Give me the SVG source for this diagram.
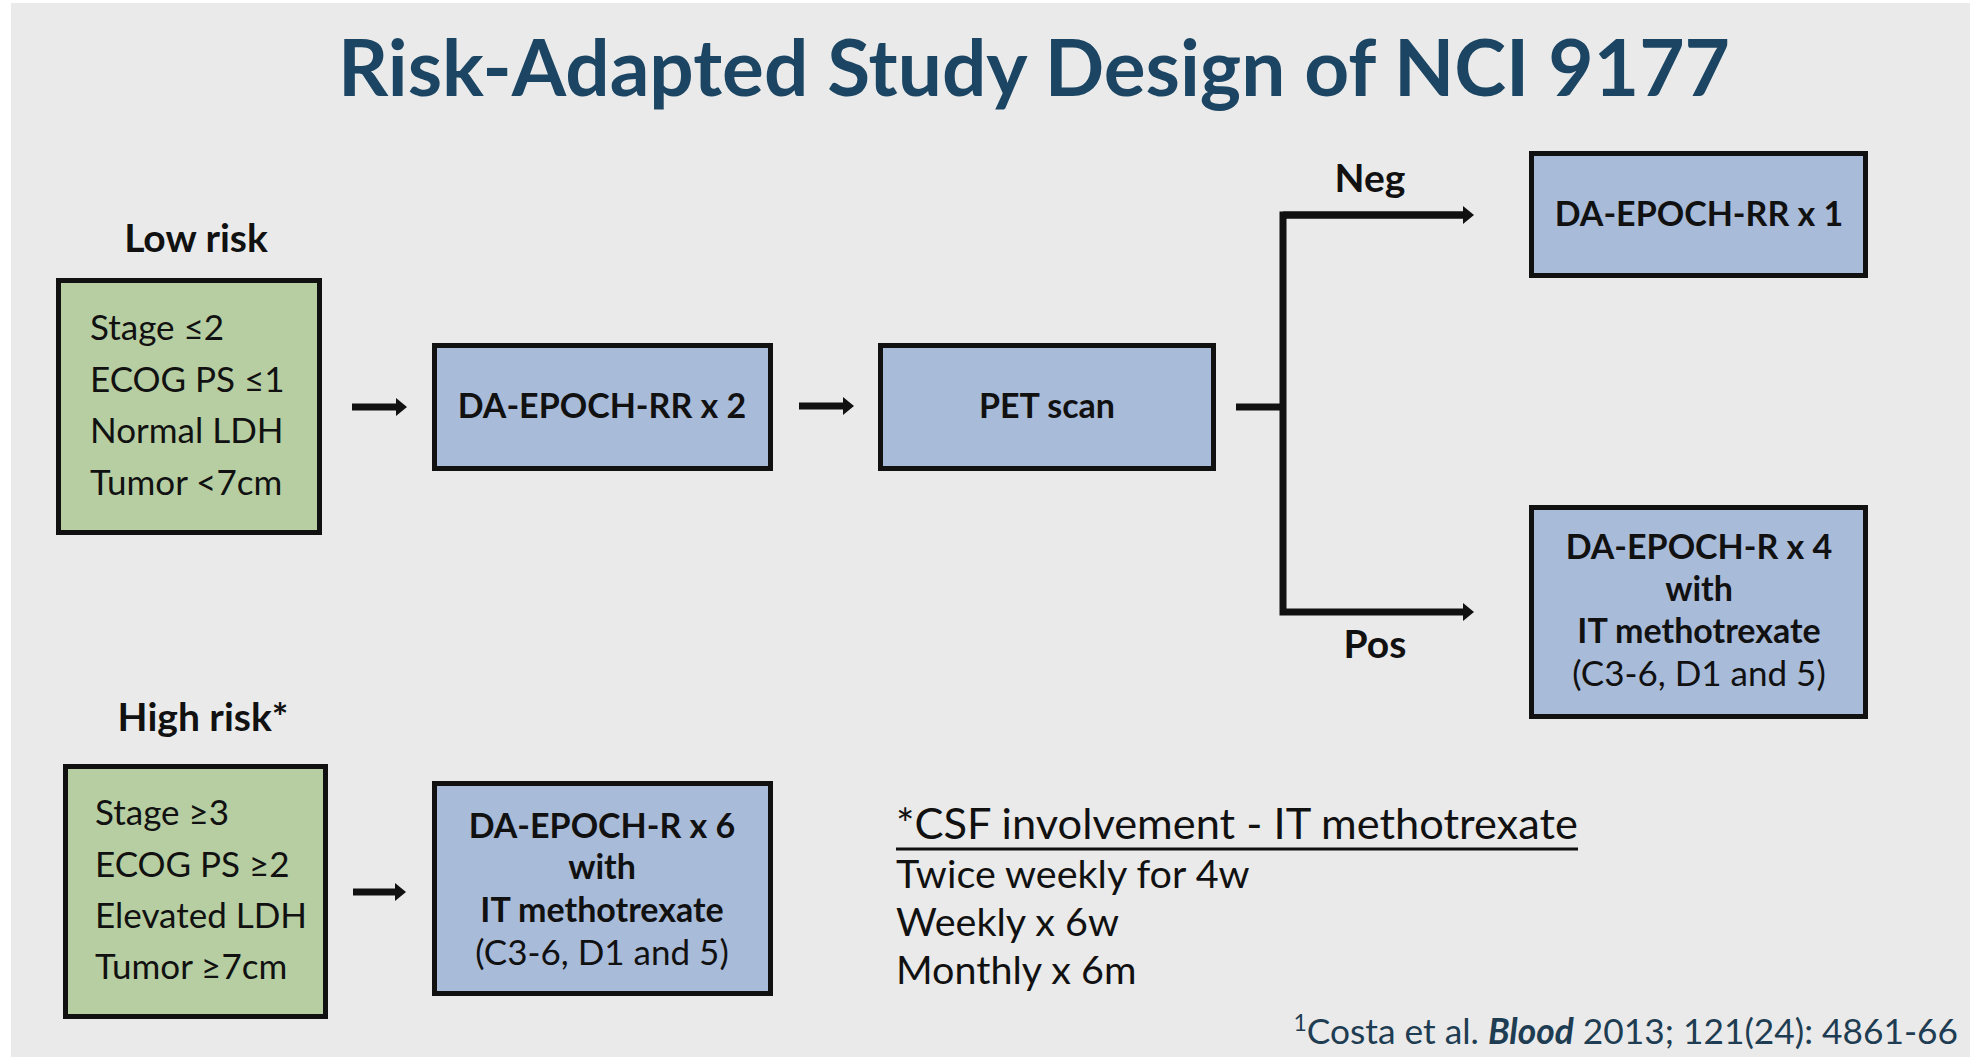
<svg xmlns="http://www.w3.org/2000/svg" width="1970" height="1057" viewBox="0 0 1970 1057">
<style>
.t{font-family:Lato,"Liberation Sans",sans-serif;fill:#111}
.b{font-weight:bold}
.c{text-anchor:middle}
.green{fill:#b6cea1;stroke:#111;stroke-width:5}
.blue{fill:#a8bbd9;stroke:#111;stroke-width:5}
.box{font-size:34px;font-weight:bold}
.crit{font-size:35px}
.lbl{font-size:39px;font-weight:bold}
.conn{stroke:#111;stroke-width:7;fill:none}
.note{font-size:39.5px}
</style>
<defs>
<marker id="ah" markerUnits="userSpaceOnUse" viewBox="0 0 11 18" refX="0" refY="9" markerWidth="11" markerHeight="18" orient="auto">
<path d="M0,0 L11,9 L0,18 z" fill="#111"/>
</marker>
</defs>
<rect x="0" y="0" width="1970" height="1057" fill="#ffffff"/>
<rect x="11" y="3" width="1959" height="1054" fill="#eaeaea"/>

<text id="title" class="t b c" x="1034" y="96" font-size="78.3" style="fill:#1b4562">Risk-Adapted Study Design of NCI 9177</text>

<g id="low-risk">
<text class="t lbl c" x="196" y="252">Low risk</text>
<rect class="green" x="58.5" y="280.5" width="261" height="252"/>
<text class="t crit" x="90" y="340">Stage ≤2</text>
<text class="t crit" x="90" y="392">ECOG PS ≤1</text>
<text class="t crit" x="90" y="443">Normal LDH</text>
<text class="t crit" x="90" y="495">Tumor &lt;7cm</text>
</g>

<g id="high-risk">
<text class="t lbl c" x="203" y="731">High risk*</text>
<rect class="green" x="65.5" y="766.5" width="260" height="250"/>
<text class="t crit" x="95" y="825">Stage ≥3</text>
<text class="t crit" x="95" y="877">ECOG PS ≥2</text>
<text class="t crit" x="95" y="928">Elevated LDH</text>
<text class="t crit" x="95" y="979">Tumor ≥7cm</text>
</g>

<g id="induction">
<rect class="blue" x="434.5" y="345.5" width="336" height="123"/>
<text class="t box c" x="602" y="418">DA-EPOCH-RR x 2</text>
</g>

<g id="pet">
<rect class="blue" x="880.5" y="345.5" width="333" height="123"/>
<text class="t box c" x="1047" y="418">PET scan</text>
</g>

<g id="neg-arm">
<rect class="blue" x="1531.5" y="153.5" width="334" height="122"/>
<text class="t box c" x="1699" y="226">DA-EPOCH-RR x 1</text>
</g>

<g id="pos-arm">
<rect class="blue" x="1531.5" y="507.5" width="334" height="209"/>
<text class="t box c" x="1699" y="559">DA-EPOCH-R x 4</text>
<text class="t box c" x="1699" y="601">with</text>
<text class="t box c" x="1699" y="643" font-size="35.5">IT methotrexate</text>
<text class="t c" x="1699" y="686" font-size="35">(C3-6, D1 and 5)</text>
</g>

<g id="high-arm">
<rect class="blue" x="434.5" y="783.5" width="336" height="210"/>
<text class="t box c" x="602" y="838">DA-EPOCH-R x 6</text>
<text class="t box c" x="602" y="879">with</text>
<text class="t box c" x="602" y="922" font-size="35.5">IT methotrexate</text>
<text class="t c" x="602" y="965" font-size="35">(C3-6, D1 and 5)</text>
</g>

<g id="connectors">
<path class="conn" d="M352,407 H396" marker-end="url(#ah)"/>
<path class="conn" d="M799,406 H843" marker-end="url(#ah)"/>
<path class="conn" d="M353,892 H395" marker-end="url(#ah)"/>
<path class="conn" d="M1236,407 H1283"/>
<path class="conn" d="M1463,215 H1283 V612 H1463" marker-end="url(#ah)"/>
<path class="conn" d="M1283,215 H1463" marker-end="url(#ah)"/>
<text class="t lbl c" x="1370" y="192" font-size="35">Neg</text>
<text class="t lbl c" x="1375" y="658" font-size="35">Pos</text>
</g>

<g id="csf-note">
<text class="t" x="896" y="839" font-size="43.4">*CSF involvement - IT methotrexate</text>
<line x1="896" y1="849" x2="1578" y2="849" stroke="#111" stroke-width="3"/>
<text class="t note" x="896" y="888">Twice weekly for 4w</text>
<text class="t note" x="896" y="936">Weekly x 6w</text>
<text class="t note" x="896" y="984">Monthly x 6m</text>
</g>

<text id="citation" class="t" x="1958" y="1044" font-size="35.3" text-anchor="end" style="fill:#1e3d52"><tspan font-size="23" dy="-13">1</tspan><tspan dy="13">Costa et al. </tspan><tspan font-weight="bold" font-style="italic">Blood</tspan> 2013; 121(24): 4861-66</text>
</svg>
